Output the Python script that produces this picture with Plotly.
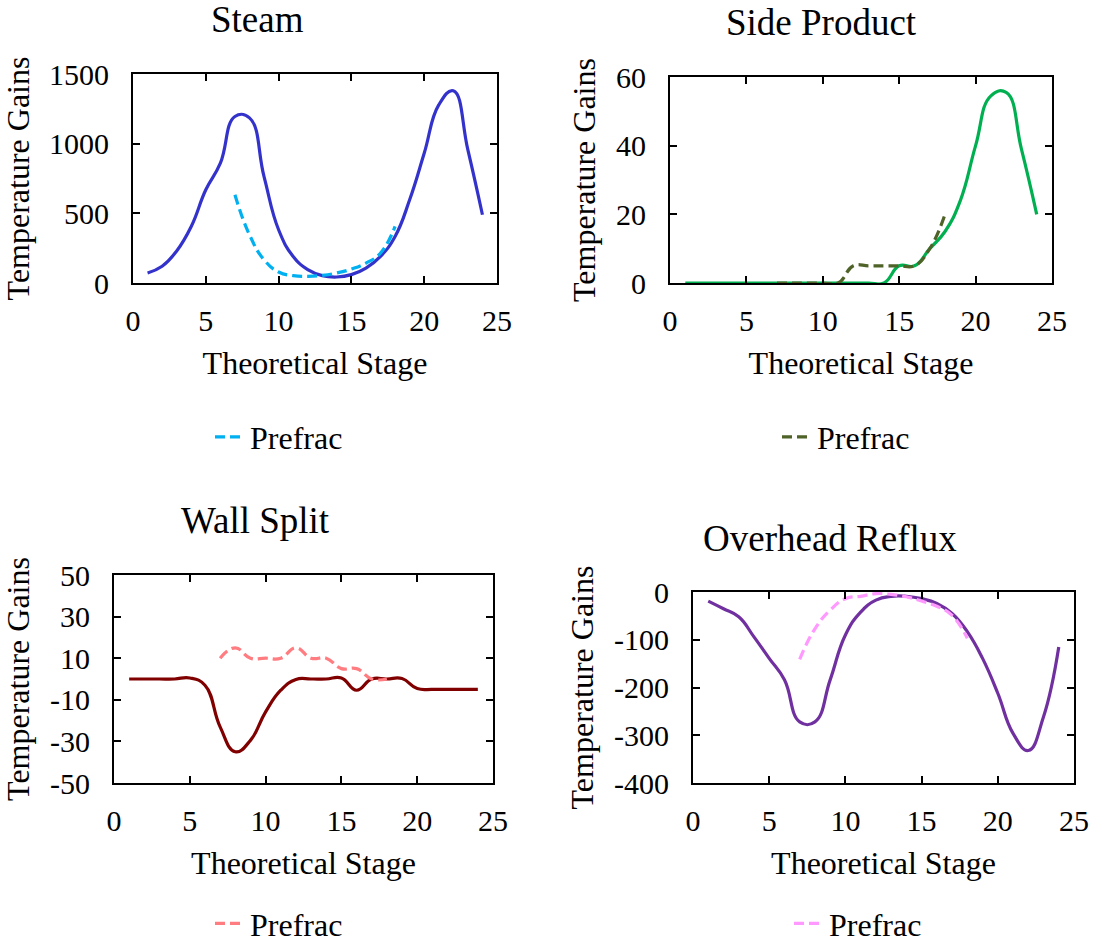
import plotly.graph_objects as go

# ---------------- data ----------------
stages_main = list(range(1, 25))
stages_pre = list(range(7, 19))

steam_main = [72, 120, 230, 406, 669, 860, 1195, 1185, 764, 382, 191, 96, 53, 43, 60, 107, 191, 334, 597, 931, 1278, 1380, 955, 490]
steam_pre = [633, 346, 167, 79, 53, 48, 55, 72, 100, 143, 215, 406]

side_main = [0, 0, 0, 0, 0, 0, 0, 0, 0, 0, 0, 0, 0, 0, 5, 5, 10, 15, 24, 40, 54.5, 55.5, 39, 20]
side_pre = [0, 0, 0, 0, 0, 5, 5, 5, 5, 5, 10, 20]

wall_main = [0, 0, 0, 0, 0.5, -3, -23, -35, -29.5, -15.8, -5.4, -0.2, 0, 0, 0.5, -5.4, 0, 0, 0.2, -4.6, -5, -5, -5, -5]
wall_pre = [10, 15, 10, 10, 10, 15, 10, 10, 5, 5, 0, 0]

reflux_main = [-19, -35, -52, -94, -139, -184, -272, -272, -184, -90, -42, -17, -9, -9, -14, -24, -45, -83, -139, -212, -296, -332, -261, -115]
reflux_pre = [-141, -77, -38, -14, -9, -3.5, -5, -10, -19, -30, -49, -97]

x_ticks = [0, 5, 10, 15, 20, 25]
steam_ticks = [0, 500, 1000, 1500]
side_ticks = [0, 20, 40, 60]
wall_ticks = [-50, -30, -10, 10, 30, 50]
reflux_ticks = [-400, -300, -200, -100, 0]

titles = ["Steam", "Side Product", "Wall Split", "Overhead Reflux"]
main_colors = ["#3333cc", "#00b050", "#800000", "#7030a0"]
pre_colors = ["#00b0f0", "#4f6228", "#ff7c80", "#ff99ff"]

W, H = 1099, 951
FONT = "Liberation Serif"

def px_x(p):
    return p / W

def px_y(p):
    return 1 - p / H

# plot boxes in pixels: (left, right, top, bottom)
boxes = [(133, 497, 74, 283), (670, 1052, 77, 283), (114, 493, 575, 783), (693, 1074, 592, 783)]

fig = go.Figure()

mains = [steam_main, side_main, wall_main, reflux_main]
pres = [steam_pre, side_pre, wall_pre, reflux_pre]
for i in range(4):
    xa = "x" if i == 0 else f"x{i+1}"
    ya = "y" if i == 0 else f"y{i+1}"
    lg = "legend" if i == 0 else f"legend{i+1}"
    fig.add_trace(go.Scatter(x=stages_main, y=mains[i], mode="lines", xaxis=xa, yaxis=ya,
                             line=dict(color=main_colors[i], width=3.2, shape="spline", smoothing=1.3),
                             showlegend=False, name=titles[i]))
    fig.add_trace(go.Scatter(x=stages_pre, y=pres[i], mode="lines", xaxis=xa, yaxis=ya,
                             line=dict(color=pre_colors[i], width=3.2, shape="spline", smoothing=1.3,
                                       dash="10px,5px"),
                             showlegend=True, name="Prefrac", legend=lg))

yranges = [[0, 1500], [0, 60], [-50, 50], [-400, 0]]
ytickvals = [steam_ticks, side_ticks, wall_ticks, reflux_ticks]

layout = dict(template="none", width=W, height=H, margin=dict(l=0, r=0, t=0, b=0),
              paper_bgcolor="white", plot_bgcolor="white",
              font=dict(family=FONT, size=30, color="black"))

axis_common = dict(showline=True, linecolor="black", linewidth=2, mirror="allticks",
                   ticks="inside", ticklen=7, tickwidth=2, tickcolor="black",
                   showgrid=False, zeroline=False, automargin=False,
                   tickfont=dict(family=FONT, size=30, color="black"))

legend_pos = [(210, 437), (777, 437), (210, 951), (789, 951)]
title_pos = [(257, 20), (821, 23), (255, 520), (830, 538)]

annotations = []
for i in range(4):
    l, r, t, b = boxes[i]
    xk = "xaxis" if i == 0 else f"xaxis{i+1}"
    yk = "yaxis" if i == 0 else f"yaxis{i+1}"
    ya = "y" if i == 0 else f"y{i+1}"
    xa = "x" if i == 0 else f"x{i+1}"
    layout[xk] = dict(axis_common, domain=[px_x(l), px_x(r)], range=[0, 25],
                      tickvals=x_ticks, ticktext=[str(v) for v in x_ticks],
                      anchor=ya, ticklabelstandoff=10,
                      title=dict(text="Theoretical Stage", font=dict(family=FONT, size=32), standoff=16))
    layout[yk] = dict(axis_common, domain=[px_y(b), px_y(t)], range=yranges[i],
                      tickvals=ytickvals[i], ticktext=[str(v) for v in ytickvals[i]],
                      anchor=xa, ticklabelstandoff=16,
                      title=dict(text="Temperature Gains", font=dict(family=FONT, size=32), standoff=11))
    lg = "legend" if i == 0 else f"legend{i+1}"
    lx, ly = legend_pos[i]
    if i < 2:
        layout[lg] = dict(x=px_x(lx), y=px_y(ly), xanchor="left", yanchor="middle",
                          font=dict(family=FONT, size=32, color="black"), bgcolor="rgba(0,0,0,0)")
    else:
        layout[lg] = dict(x=px_x(lx), y=0, xanchor="left", yanchor="bottom",
                          font=dict(family=FONT, size=32, color="black"), bgcolor="rgba(0,0,0,0)")
    tx, ty = title_pos[i]
    annotations.append(dict(text=titles[i], x=px_x(tx), y=px_y(ty), xref="paper", yref="paper",
                            xanchor="center", yanchor="middle", showarrow=False,
                            font=dict(family=FONT, size=37, color="black")))

layout["annotations"] = annotations
fig.update_layout(**layout)
fig.write_html("out.html")
